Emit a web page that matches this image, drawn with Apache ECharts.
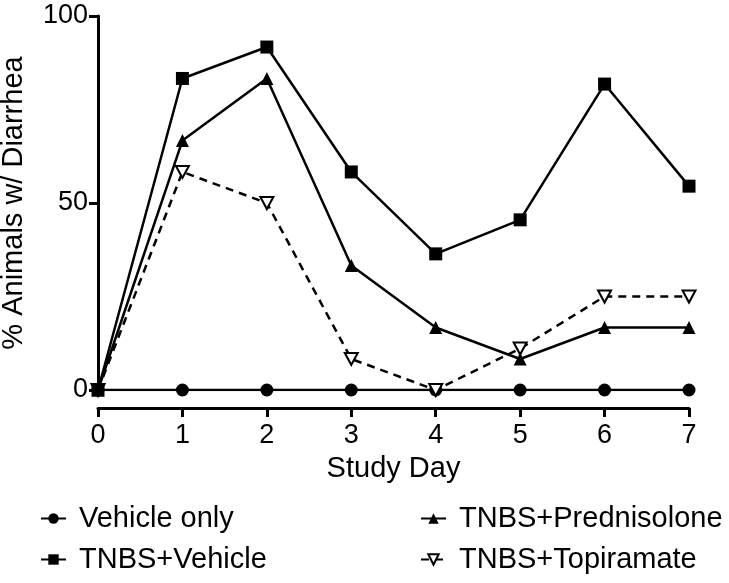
<!DOCTYPE html>
<html>
<head>
<meta charset="utf-8">
<script src="https://cdn.jsdelivr.net/npm/echarts@6/dist/echarts.min.js"></script>
<style>html,body{margin:0;padding:0;background:#fff;}#c{width:729px;height:583px;}</style>
</head>
<body>
<div id="c"></div>
<script>
var days = [0, 1, 2, 3, 4, 5, 6, 7];
var vehicleOnly = [0, 0, 0, 0, 0, 0, 0, 0];
var tnbsVehicle = [0, 83.3, 91.7, 58.3, 36.4, 45.5, 81.8, 54.5];
var tnbsPred = [0, 66.7, 83.3, 33.3, 16.7, 8.3, 16.7, 16.7];
var tnbsTopi = [0, 58.3, 50, 8.3, 0, 11.1, 25, 25];
var yTicks = [0, 50, 100];

function pairs(vals) { return days.map(function (d, i) { return [d, vals[i]]; }); }

var FONT = 'Liberation Sans';
var invTri = 'path://M0,0L10,0L5,9Z';

function leg(name, left, top) {
  return { left: left, top: top, padding: 0, orient: 'horizontal', itemWidth: 25, itemHeight: 13,
    textStyle: { fontSize: 29, color: '#000', fontFamily: FONT, padding: [0, 0, 0, 8] },
    data: [name] };
}

var chart = echarts.init(document.getElementById('c'));
chart.setOption({
  animation: false,
  textStyle: { fontFamily: FONT, color: '#000' },
  grid: { left: 98, right: 40, top: 16, bottom: 193, containLabel: false, outerBoundsMode: 'none' },
  xAxis: {
    type: 'value', min: 0, max: 7, interval: 1, offset: 18,
    axisLine: { show: true, onZero: false, lineStyle: { color: '#000', width: 3 } },
    axisTick: { show: true, length: 9, lineStyle: { color: '#000', width: 3 } },
    axisLabel: { fontSize: 27, color: '#000', fontFamily: FONT, margin: 14 },
    splitLine: { show: false },
    name: 'Study Day', nameLocation: 'middle', nameGap: 46,
    nameTextStyle: { fontSize: 29, color: '#000', fontFamily: FONT }
  },
  yAxis: {
    type: 'value', min: 0, max: 100, interval: 50,
    axisLine: { show: true, lineStyle: { color: '#000', width: 3 } },
    axisTick: { show: true, length: 9, lineStyle: { color: '#000', width: 3 } },
    axisLabel: { fontSize: 27, color: '#000', fontFamily: FONT, margin: 10,
      formatter: function (v) { return yTicks.indexOf(v) >= 0 ? String(v) : ''; } },
    splitLine: { show: false },
    name: '% Animals w/ Diarrhea', nameLocation: 'middle', nameGap: 70,
    nameTextStyle: { fontSize: 29, color: '#000', fontFamily: FONT }
  },
  legend: [
    leg('Vehicle only', 40, 504),
    leg('TNBS+Vehicle', 40, 545),
    leg('TNBS+Prednisolone', 420, 504),
    leg('TNBS+Topiramate', 420, 545)
  ],
  series: [
    { name: 'Vehicle only', type: 'line', data: pairs(vehicleOnly), symbol: 'circle', symbolSize: 13,
      lineStyle: { color: '#000', width: 2.5 }, itemStyle: { color: '#000' } },
    { name: 'TNBS+Prednisolone', type: 'line', data: pairs(tnbsPred), symbol: 'triangle', symbolSize: 13,
      lineStyle: { color: '#000', width: 2.5 }, itemStyle: { color: '#000' } },
    { name: 'TNBS+Topiramate', type: 'line', data: pairs(tnbsTopi), symbol: invTri, symbolSize: [13, 12],
      lineStyle: { color: '#000', width: 2.5, type: [8, 6] },
      itemStyle: { color: '#fff', borderColor: '#000', borderWidth: 2 } },
    { name: 'TNBS+Vehicle', type: 'line', data: pairs(tnbsVehicle), symbol: 'rect', symbolSize: 13,
      lineStyle: { color: '#000', width: 2.5 }, itemStyle: { color: '#000' } }
  ]
});
</script>
</body>
</html>
